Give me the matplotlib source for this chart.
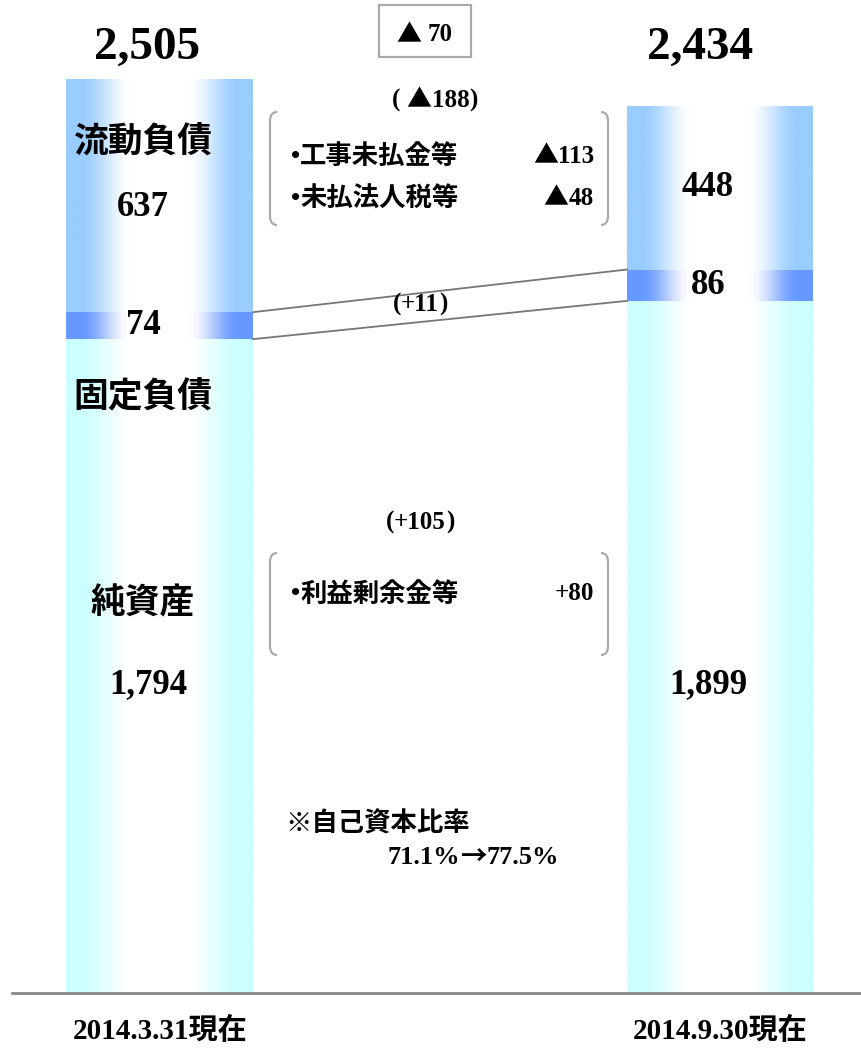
import numpy as np
import matplotlib.pyplot as plt
from matplotlib.path import Path
from matplotlib.patches import PathPatch, Rectangle

SERIF = ['Liberation Serif', 'Noto Sans CJK JP', 'DejaVu Sans']
CJK = ['Noto Sans CJK JP', 'DejaVu Sans']
plt.rcParams['font.family'] = SERIF
plt.rcParams['font.weight'] = 'bold'

# data
dates = ['2014.3.31現在', '2014.9.30現在']
net_assets = [1794, 1899]
fixed_liab = [74, 86]
current_liab = [637, 448]
totals = [2505, 2434]
total_change = -70
current_change = -188
fixed_change = 11
net_change = 105
current_items = ['工事未払金等', '未払法人税等']
current_item_vals = [-113, -48]
net_items = ['利益剰余金等']
net_item_vals = [80]
equity_ratio = [71.1, 77.5]

c_current = (0.60, 0.80, 1.00)
c_fixed = (0.40, 0.60, 1.00)
c_net = (0.80, 1.00, 1.00)


def num_runs(v, sign=True, space=''):
    # value as list of (text, family) pieces, ▲ for negatives
    if v < 0:
        return [('▲' + space, CJK), (format(-v, ','), SERIF)]
    return [(('+' if sign else '') + format(v, ','), SERIF)]


def grad_fill(ax, x0, x1, y0, y1, color):
    t = np.abs(np.linspace(-1, 1, 300))
    w = np.clip((t - 0.3) / 0.55, 0, 1)
    w = w * w * (3 - 2 * w)
    col = np.array(color)
    rgb = 1 - w[:, None] * (1 - col)
    ax.imshow(rgb[None, :, :], extent=(x0, x1, y0, y1), aspect='auto',
              interpolation='bilinear', zorder=1)


def bracket(ax, x, y0, y1, side):
    d = 7 * side
    verts = [(x + d, y0), (x, y0), (x, y0 + 9), (x, y1 - 9), (x, y1), (x + d, y1)]
    codes = [Path.MOVETO, Path.CURVE3, Path.CURVE3, Path.LINETO, Path.CURVE3, Path.CURVE3]
    ax.add_patch(PathPatch(Path(verts, codes), fill=False, edgecolor='#aaaaaa', lw=1.6))


W, H = 862, 1049
fig = plt.figure(figsize=(W / 100, H / 100), dpi=100)
rend = fig.canvas.get_renderer()


def runs_text(ax, x, y, runs, ha='left', size=18):
    objs = []
    widths = []
    for s, fam in runs:
        t = ax.text(0, y, s, fontsize=size, family=fam, fontweight='bold',
                    ha='left', va='center_baseline')
        objs.append(t)
        widths.append(t.get_window_extent(rend).width)
    total = sum(widths)
    if ha == 'right':
        x0 = x - total
    elif ha == 'center':
        x0 = x - total / 2
    else:
        x0 = x
    for t, w in zip(objs, widths):
        t.set_x(x0)
        x0 += w


ax = fig.add_axes([0, 0, 1, 1])

base_px = 993
top_px = 80
scale = (base_px - top_px) / max(totals)


def px(v):
    return base_px - v * scale


bar_x = [(66, 253), (627, 813)]
for i in range(2):
    x0, x1 = bar_x[i]
    b1 = net_assets[i]
    b2 = b1 + fixed_liab[i]
    b3 = b2 + current_liab[i]
    grad_fill(ax, x0, x1, 0, b1, c_net)
    grad_fill(ax, x0, x1, b1, b2, c_fixed)
    grad_fill(ax, x0, x1, b2, b3, c_current)

# connecting lines for fixed liabilities
lo = [net_assets[0], net_assets[1]]
hi = [net_assets[0] + fixed_liab[0], net_assets[1] + fixed_liab[1]]
ax.plot([bar_x[0][1], bar_x[1][0]], hi, color='#777777', lw=1.3, zorder=2)
ax.plot([bar_x[0][1], bar_x[1][0]], lo, color='#777777', lw=1.3, zorder=2)

ax.set_xlim(0, W)
ax.set_ylim(-(H - base_px) / scale, base_px / scale)
ax.axis('off')

# overlay in pixel coords for annotations
ov = fig.add_axes([0, 0, 1, 1])
ov.set_xlim(0, W)
ov.set_ylim(H, 0)
ov.axis('off')
ov.patch.set_alpha(0)

ov.plot([12, 862], [993, 993], color='#888888', lw=2)

big = dict(fontsize=34, ha='center', va='center', fontweight='bold')
mid = dict(fontsize=25, ha='center', va='center', fontweight='bold')
lab = dict(fontsize=25, ha='center', va='center', fontweight='bold', family=CJK)

ov.text(147, 48, format(totals[0], ','), **big)
ov.text(700, 48, format(totals[1], ','), **big)

# left bar labels
top0 = px(totals[0])
ov.text(143, top0 + 62, '流動負債', **lab)
ov.text(143, top0 + 128, format(current_liab[0], ','), **mid)
ov.text(143, px(net_assets[0] + fixed_liab[0] / 2), format(fixed_liab[0], ','), **mid)
ov.text(143, px(net_assets[0]) + 58, '固定負債', **lab)
ov.text(143, 603, '純資産', **lab)
ov.text(148, 685, format(net_assets[0], ','), **mid)

# right bar labels
ov.text(708, px(net_assets[1] + fixed_liab[1] + current_liab[1] / 2),
        format(current_liab[1], ','), **mid)
ov.text(708, px(net_assets[1] + fixed_liab[1] / 2), format(fixed_liab[1], ','), **mid)
ov.text(708, 685, format(net_assets[1], ','), **mid)

# total change box
ov.add_patch(Rectangle((379, 5), 92, 52, fill=False, edgecolor='#aaaaaa', lw=1.6))
runs_text(ov, 425, 32, num_runs(total_change, space=' '), ha='center')

runs_text(ov, 435, 98, [('( ', SERIF)] + num_runs(current_change) + [(')', SERIF)], ha='center')
bracket(ov, 270, 112, 225, 1)
bracket(ov, 608, 112, 225, -1)
for j, (name, v) in enumerate(zip(current_items, current_item_vals)):
    y = 154 + 42 * j
    runs_text(ov, 291, y, [('•', SERIF), (name, CJK)], ha='left', size=19)
    runs_text(ov, 594, y, num_runs(v), ha='right')

# (+11) sits between the two connecting lines
lx = 420
f = (lx - bar_x[0][1]) / (bar_x[1][0] - bar_x[0][1])
mid_v = (hi[0] + lo[0]) / 2 * (1 - f) + (hi[1] + lo[1]) / 2 * f
runs_text(ov, lx, px(mid_v) - 6, [('(', SERIF)] + num_runs(fixed_change) + [(')', SERIF)],
          ha='center')

runs_text(ov, 420, 520, [('(', SERIF)] + num_runs(net_change) + [(')', SERIF)], ha='center')
bracket(ov, 270, 553, 655, 1)
bracket(ov, 608, 553, 655, -1)
for j, (name, v) in enumerate(zip(net_items, net_item_vals)):
    y = 591 + 42 * j
    runs_text(ov, 291, y, [('•', SERIF), (name, CJK)], ha='left', size=19)
    runs_text(ov, 594, y, num_runs(v), ha='right')

runs_text(ov, 285, 821, [('※自己資本比率', CJK)], ha='left', size=19)
runs_text(ov, 388, 855, [(f'{equity_ratio[0]}%', SERIF), ('→', CJK),
                         (f'{equity_ratio[1]}%', SERIF)], ha='left', size=19)

ov.text(160, 1031, dates[0], fontsize=21, ha='center', va='center', fontweight='bold')
ov.text(720, 1031, dates[1], fontsize=21, ha='center', va='center', fontweight='bold')

fig.savefig('out.png', dpi=100)
